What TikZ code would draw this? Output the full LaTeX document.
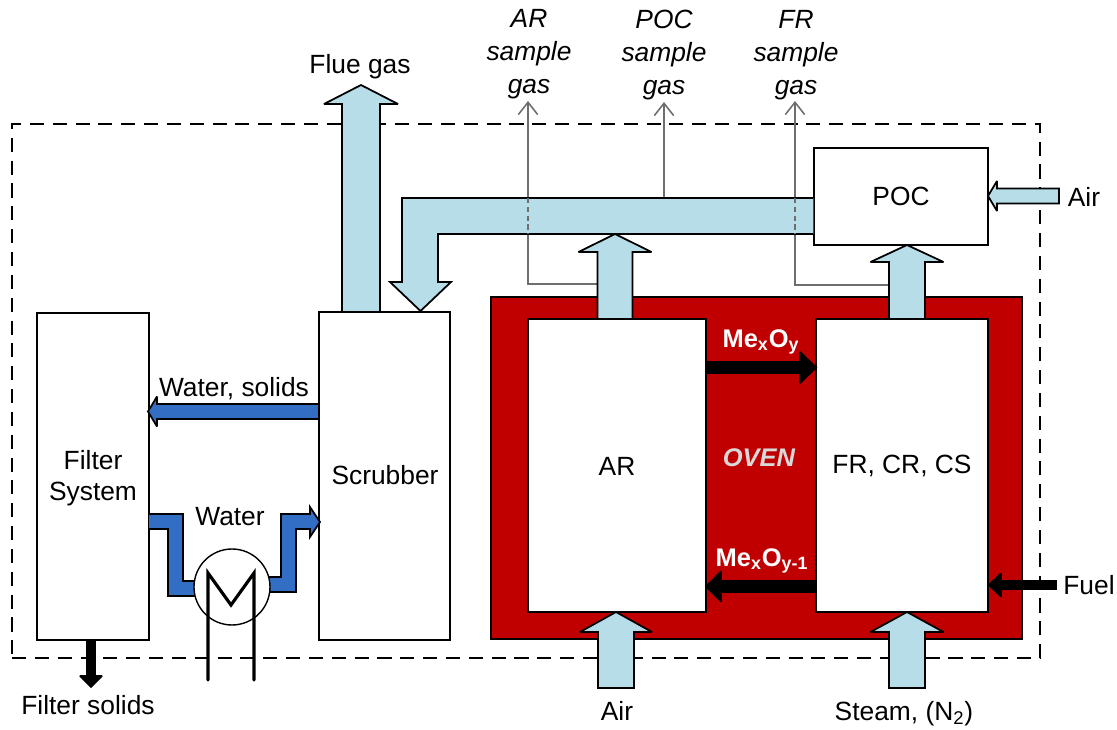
\documentclass[tikz,border=0pt]{standalone}
\usepackage{fontspec}
\setmainfont{Liberation Sans}
\usetikzlibrary{calc, arrows.meta}
\definecolor{AirBlue}{RGB}{183,221,232}
\definecolor{WaterBlue}{RGB}{49,110,196}
\definecolor{OvenRed}{RGB}{192,0,0}
\definecolor{LineGray}{RGB}{110,110,110}
\tikzset{
    unitbox/.style = {draw, thick, fill = white, inner sep = 0pt},
    sampleline/.style = {draw = LineGray, line width = 0.9pt},
    label/.style = {font = \fontsize{15}{17.6}\selectfont, inner sep = 0pt, align = center},
    samplelabel/.style = {label, font = \fontsize{15}{18.7}\selectfont\itshape},
    ovenlabel/.style = {label, text = white, font = \fontsize{14.5}{17}\selectfont\bfseries}
}
% block arrow from #2 to #3, half widths #4 and #5, head length #6
\newcommand{\fatarrow}[6][AirBlue]{
    \coordinate (neck) at ($(#3)!#6!(#2)$);
    \draw[fill = #1, line width = 1pt, miter limit = 2]
        ($(#2)!#4!90:(#3)$) -- ($(neck)!#4!90:(#3)$) -- ($(neck)!#5!90:(#3)$) -- (#3)
        -- ($(neck)!#5!-90:(#3)$) -- ($(neck)!#4!-90:(#3)$) -- ($(#2)!#4!-90:(#3)$) -- cycle;
}
\begin{document}
\begin{tikzpicture}[x = 0.02cm, y = -0.02cm]
    \useasboundingbox (0,0) rectangle (1117,730);

    \node[inner sep = 0pt, minimum width = 531*0.02cm, minimum height = 342*0.02cm, fill = OvenRed, draw = black, thick] (oven) at (756.5,468) {};
    \node[unitbox, minimum width = 178*0.02cm, minimum height = 293*0.02cm] (ar) at (617,465.5) {};
    \node[unitbox, minimum width = 172*0.02cm, minimum height = 293*0.02cm] (fr) at (902,465.5) {};
    \node[unitbox, minimum width = 174*0.02cm, minimum height = 97*0.02cm] (poc) at (901,196.5) {};
    \node[unitbox, minimum width = 112*0.02cm, minimum height = 327*0.02cm] (filter) at (93,476.5) {};
    \node[unitbox, minimum width = 131*0.02cm, minimum height = 328*0.02cm] (scrubber) at (384.5,476) {};

    \node[draw, dash pattern = on 8pt off 5pt, line width = 0.7pt, inner sep = 0pt, minimum width = 1028*0.02cm, minimum height = 534*0.02cm] (boundary) at (526,391) {};

    % sample lines
    \coordinate (arpipe) at (597,284);
    \coordinate (frpipe) at (889,285);
    \coordinate (artip) at (528,101);
    \coordinate (poctip) at (664,102);
    \coordinate (frtip) at (795,101);
    \draw[sampleline, -{Straight Barb[length = 7pt, width = 11pt]}] (arpipe) -- (artip |- arpipe) -- (artip);
    \draw[sampleline, -{Straight Barb[length = 7pt, width = 11pt]}] (frpipe) -- (frtip |- frpipe) -- (frtip);
    \draw[sampleline, -{Straight Barb[length = 7pt, width = 11pt]}] (poctip |- 0,198) -- (poctip);

    % flue gas and duct
    \draw[fill = AirBlue, line width = 1pt] (poc.west |- 0,198) -- (402,198) -- (402,282) -- (390,282) -- (420.5,311) -- (451,282) -- (438,282) -- (438,234) -- (poc.west |- 0,234);
    \draw[sampleline, line width = 1.2pt, dash pattern = on 3pt off 2pt] (artip |- 0,198) -- (artip |- 0,234);
    \draw[sampleline, line width = 1.2pt, dash pattern = on 3pt off 2pt] (frtip |- 0,198) -- (frtip |- 0,234);

    \coordinate (fluein) at (361,312);
    \coordinate (fluetip) at (361,85);
    \coordinate (airar) at (615,319);
    \coordinate (artop) at (615,234);
    \coordinate (airfr) at (907,319);
    \coordinate (frtop) at (907,245);
    \coordinate (airin) at (616,688);
    \coordinate (arbot) at (616,612);
    \coordinate (steamin) at (907,688);
    \coordinate (frbot) at (907,612);
    \coordinate (airpoc) at (1059,196);
    \coordinate (pocright) at (988,196);
    \fatarrow{fluein}{fluetip}{0.38cm}{0.74cm}{0.38cm}
    \fatarrow{airar}{artop}{0.35cm}{0.73cm}{0.36cm}
    \fatarrow{airfr}{frtop}{0.36cm}{0.73cm}{0.34cm}
    \fatarrow{airin}{arbot}{0.36cm}{0.72cm}{0.4cm}
    \fatarrow{steamin}{frbot}{0.36cm}{0.73cm}{0.4cm}
    \fatarrow{airpoc}{pocright}{0.15cm}{0.3cm}{0.18cm}

    % metal oxide and other black arrows
    \coordinate (oxA) at (706,367.5);
    \coordinate (oxB) at (816,367.5);
    \coordinate (redA) at (816,586.5);
    \coordinate (redB) at (706,586.5);
    \coordinate (fuelin) at (1056,585);
    \coordinate (fuelout) at (989,585);
    \coordinate (solidsA) at (91,640);
    \coordinate (solidsB) at (91,687);
    \fatarrow[black]{oxA}{oxB}{0.11cm}{0.31cm}{0.32cm}
    \fatarrow[black]{redA}{redB}{0.11cm}{0.3cm}{0.3cm}
    \fatarrow[black]{fuelin}{fuelout}{0.08cm}{0.23cm}{0.24cm}
    \fatarrow[black]{solidsA}{solidsB}{0.08cm}{0.22cm}{0.22cm}

    % water loop
    \coordinate (washA) at (319,411.5);
    \coordinate (washB) at (148,411.5);
    \fatarrow[WaterBlue]{washA}{washB}{0.15cm}{0.3cm}{0.18cm}
    \draw[fill = WaterBlue, line width = 1pt] (149,514) -- (183,514) -- (183,581) -- (200,581) -- (200,596) -- (168,596) -- (168,529) -- (149,529);
    \draw[fill = WaterBlue, line width = 1pt] (262,577) -- (281,577) -- (281,514) -- (310,514) -- (310,507) -- (320,522) -- (310,537) -- (310,529) -- (296,529) -- (296,592) -- (262,592);
    \node[draw, fill = white, circle, line width = 0.8pt, minimum size = 76*0.02cm, inner sep = 0pt] (cooler) at (232,587) {};
    \draw[line width = 1.8pt, line cap = round] (208,680) -- (208,573) -- (231,605) -- (254,573) -- (254,680);

    % labels
    \node[label] at (617,466) {AR};
    \node[label] at (902,465.5) {FR, CR, CS};
    \node[label] at (poc) {POC};
    \node[label] at (93,478.5) {Filter\\System};
    \node[label] at (385,475) {Scrubber};
    \node[label] (fluelabel) at (360,67) {Flue gas};
    \node[samplelabel] (arlabel) at (529,54) {AR\\sample\\gas};
    \node[samplelabel] (poclabel) at (664,55) {POC\\sample\\gas};
    \node[samplelabel] (frlabel) at (796,55) {FR\\sample\\gas};
    \node[label] (airlabelA) at (1084,197) {Air};
    \node[label] (fuellabel) at (1089,585) {Fuel};
    \node[label] (airlabelB) at (617,711) {Air};
    \node[label] (steamlabel) at (904,714) {Steam, (N\textsubscript{2})};
    \node[label] (solidslabel) at (88,705) {Filter solids};
    \node[label] (washlabel) at (234,389) {Water, solids};
    \node[label] (waterlabel) at (230,517) {Water};
    \node[ovenlabel] (oxlabel) at (761,342) {Me\textsubscript{x}O\textsubscript{y}};
    \node[ovenlabel] (redlabel) at (762,561) {Me\textsubscript{x}O\textsubscript{y-1}};
    \node[ovenlabel, text = white!85!black, font = \fontsize{14.5}{17}\selectfont\bfseries\itshape] (ovenlabel) at (759,458) {OVEN};
\end{tikzpicture}
\end{document}
